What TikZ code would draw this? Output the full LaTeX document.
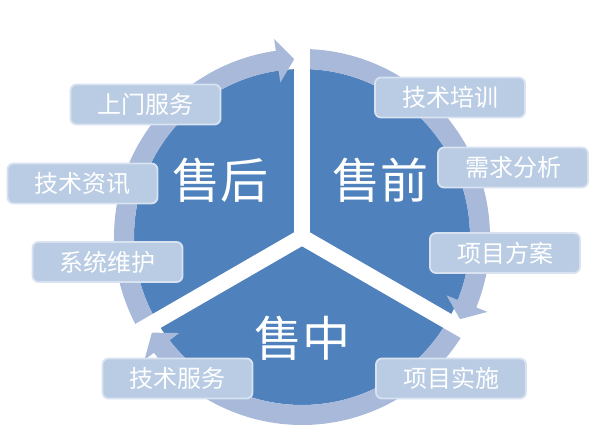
\documentclass[tikz,border=0pt]{standalone}
\usepackage{fontspec}
\newfontfamily\cjk{Noto Sans CJK SC}

\begin{document}
\begin{tikzpicture}[x=1pt,y=1pt,font=\cjk]
\tikzset{
% colours and shapes of the cycle
ring/.style={fill=ringblue},
gap band/.style={draw=white,line width=16pt},
item box/.style={rectangle,rounded corners=6pt,draw=boxline,line width=1.8pt,fill=boxblue,
  minimum width=150pt,minimum height=40pt,text=white,font=\cjk\fontsize{24}{24}\selectfont},
stage/.style={text=white,font=\cjk\fontsize{48}{48}\selectfont}
}
\definecolor{diskblue}{HTML}{4F81BD}
\definecolor{ringblue}{HTML}{A8B9D9}
\definecolor{boxblue}{HTML}{B9CCE4}
\definecolor{boxline}{HTML}{D8E2F0}

\useasboundingbox (0,0) rectangle (602,444);

% the disk and the ring of arrows
\begin{scope}[shift={(302,207)}]
\fill[diskblue] (0,0) circle[radius=168];
\foreach \s/\b/\t in {210/98/92.5, 90/-22/-27.5, -30/-142/-147.5}
  \fill[ring] (\s:188) arc[start angle=\s,end angle=\b,radius=188] -- (\b:200) -- (\t:178)
    -- (\b:156) -- (\b:168) arc[start angle=\b,end angle=\s,radius=168] -- cycle;
% white cuts between the three parts
\foreach \a in {90,-30,210}
  \draw[gap band] (0,0) -- (\a:212);
\end{scope}

% the three stages
\node(after)[stage] at (220,264) {售后};
\node(before)[stage] at (380,264) {售前};
\node(during)[stage] at (302,106) {售中};

% tasks of each stage
\node(visit)[item box] at (145.5,339.5) {上门服务};
\node(news)[item box] at (82.5,260.5) {技术资讯};
\node(upkeep)[item box] at (107.5,182) {系统维护};
\node(train)[item box] at (450,346.5) {技术培训};
\node(needs)[item box] at (513,276.5) {需求分析};
\node(plan)[item box] at (505,191) {项目方案};
\node(service)[item box] at (177.5,65.5) {技术服务};
\node(deploy)[item box] at (451,65.5) {项目实施};
\end{tikzpicture}
\end{document}
